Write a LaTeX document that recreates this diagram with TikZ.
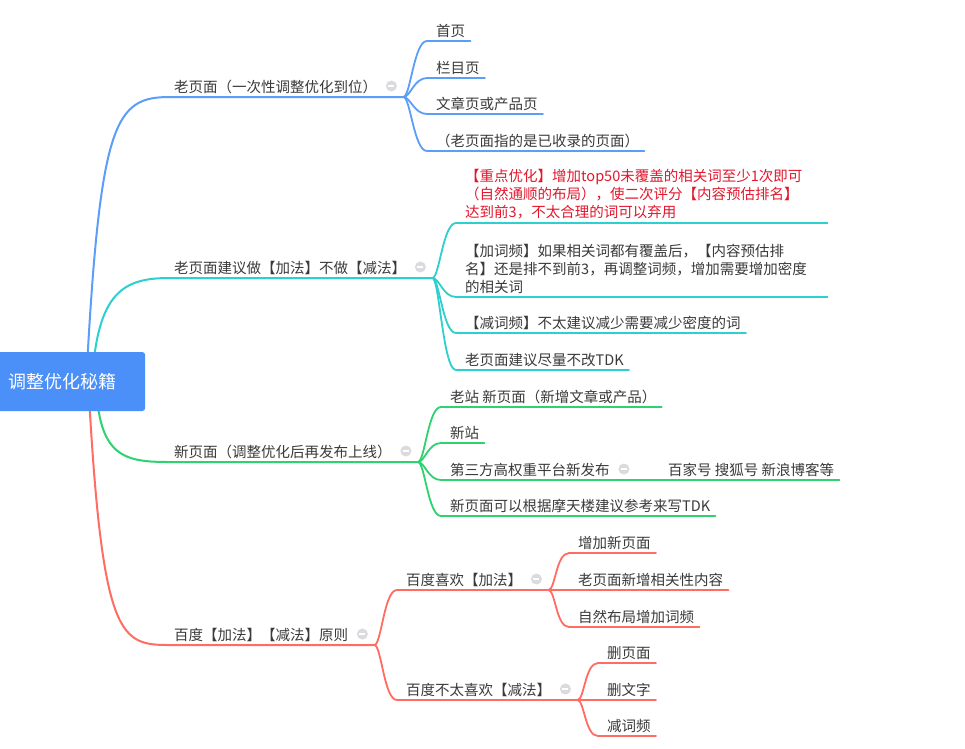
\documentclass[tikz,border=0pt]{standalone}
\usepackage{fontspec}
\setmainfont{Noto Sans CJK SC}
\usepackage{xcolor}
\usepackage{tikz}
\usetikzlibrary{positioning,calc,backgrounds}
\definecolor{rootblue}{HTML}{4B8FF8}
\definecolor{lblue}{HTML}{5C9DF7}
\definecolor{lteal}{HTML}{2DCFCF}
\definecolor{lgreen}{HTML}{2ED26F}
\definecolor{lred}{HTML}{FF6C61}
\definecolor{txtgray}{HTML}{3A3A3A}
\definecolor{txtred}{HTML}{E3172D}
\definecolor{foldgray}{HTML}{DADADF}
\tikzstyle{root}   =[rectangle, fill=rootblue, rounded corners=3pt, text=white,
                     font=\fontsize{18}{22}\selectfont, anchor=west,
                     minimum height=59pt, inner xsep=13pt, text width=124pt, align=left]
\tikzstyle{topic}  =[anchor=south west, inner xsep=0pt, inner ysep=3.5pt,
                     text depth=1pt, text=txtgray]
\tikzstyle{topicml}=[anchor=south west, inner xsep=0pt, inner ysep=3.5pt,
                     text width=357pt, align=left, text=txtgray]
\tikzstyle{fold}   =[circle, fill=foldgray, minimum size=11pt, inner sep=0pt,
                     path picture={\draw[white, line width=1.5pt]
                       ([xshift=-3pt]path picture bounding box.center) --
                       ([xshift=3pt]path picture bounding box.center);}]
\tikzstyle{main}   =[line width=2pt, line cap=round]
\tikzstyle{sub}    =[line width=1.8pt, line cap=round]

\begin{document}
\begin{tikzpicture}[x=1pt, y=-1pt, every node/.style={font=\fontsize{14.5}{18}\selectfont}]
  \useasboundingbox (0,0) rectangle (965,748);

  % ── root ───────────────────────────────────────────────────────────────────
  \node[root] (root) at (-5,381.5) {调整优化秘籍};

  % ── first level ────────────────────────────────────────────────────────────
  \node[topic] (old)  at (174,97)  {老页面（一次性调整优化到位）};
  \node[topic] (add)  at (174,278) {老页面建议做【加法】不做【减法】};
  \node[topic] (new)  at (174,462) {新页面（调整优化后再发布上线）};
  \node[topic] (rule) at (174,645) {百度【加法】【减法】原则};

  % ── old pages ──────────────────────────────────────────────────────────────
  \node[topic] (home)    at (436,41)  {首页};
  \node[topic] (column)  at (436,78)  {栏目页};
  \node[topic] (article) at (436,114) {文章页或产品页};
  \node[topic] (note)    at (436,151) {（老页面指的是已收录的页面）};

  % ── add, not subtract ──────────────────────────────────────────────────────
  \node[topicml, text=txtred] (focus) at (465,223)
    {【重点优化】增加top50未覆盖的相关词至少1次即可\\（自然通顺的布局），使二次评分【内容预估排名】\\达到前3，不太合理的词可以弃用};
  \node[topicml] (frequp) at (465,297)
    {【加词频】如果相关词都有覆盖后，【内容预估排\\名】还是排不到前3，再调整词频，增加需要增加密度\\的相关词};
  \node[topic] (freqdn) at (465,333) {【减词频】不太建议减少需要减少密度的词};
  \node[topic] (tdk)    at (465,370) {老页面建议尽量不改TDK};

  % ── new pages ──────────────────────────────────────────────────────────────
  \node[topic] (oldsite) at (450,407) {老站 新页面（新增文章或产品）};
  \node[topic] (newsite) at (450,443) {新站};
  \node[topic] (third)   at (450,480) {第三方高权重平台新发布};
  \node[topic] (media)   at (668,480) {百家号 搜狐号 新浪博客等};
  \node[topic] (newtdk)  at (450,516) {新页面可以根据摩天楼建议参考来写TDK};

  % ── baidu rules ────────────────────────────────────────────────────────────
  \node[topic] (like)    at (406,590) {百度喜欢【加法】};
  \node[topic] (dislike) at (406,700) {百度不太喜欢【减法】};
  \node[topic] (newpage) at (578,553) {增加新页面};
  \node[topic] (relcont) at (578,590) {老页面新增相关性内容};
  \node[topic] (natfreq) at (578,627) {自然布局增加词频};
  \node[topic] (delpage) at (607,663) {删页面};
  \node[topic] (deltext) at (607,700) {删文字};
  \node[topic] (delfreq) at (607,736) {减词频};

  % ── fold marks and fork points ─────────────────────────────────────────────
  \foreach \n in {old,add,new,third,rule,like,dislike}{
    \node[fold] (\n-f) at ([xshift=14pt,yshift=11pt]\n.south east) {};
    \coordinate (\n-x) at ([xshift=26pt]\n.south east);
  }

  \begin{scope}[on background layer]
    \fill[white] (0,0) rectangle (965,748);

    % ── root branches (hidden behind the root box) ───────────────────────────
    \draw[main, lblue]  ([xshift=16pt]root.center) .. controls (100,120) and (115,97)
      .. ([xshift=-4pt]old.south west) -- (old-x);
    \draw[main, lteal]  ([xshift=22pt]root.center) .. controls (97,290) and (125,278)
      .. ([xshift=-4pt]add.south west) -- (add-x);
    \draw[main, lgreen] ([xshift=26pt]root.center) .. controls (98,458) and (125,462)
      .. ([xshift=-4pt]new.south west) -- (new-x);
    \draw[main, lred]   ([xshift=18pt]root.center) .. controls (102,640) and (120,645)
      .. ([xshift=-4pt]rule.south west) -- (rule-x);

    % ── second level ─────────────────────────────────────────────────────────
    \foreach \c in {home,column,article,note}
      \draw[sub, lblue] (old-x) .. controls +(7,0) and +(-13,0)
        .. ([xshift=-9pt]\c.south west) -- ([xshift=5pt]\c.south east);
    \foreach \c in {focus,frequp,freqdn,tdk}
      \draw[sub, lteal] (add-x) .. controls +(7,0) and +(-13,0)
        .. ([xshift=-9pt]\c.south west) -- ([xshift=5pt]\c.south east);
    \foreach \c in {oldsite,newsite,newtdk}
      \draw[sub, lgreen] (new-x) .. controls +(7,0) and +(-13,0)
        .. ([xshift=-9pt]\c.south west) -- ([xshift=5pt]\c.south east);
    \draw[sub, lgreen] (new-x) .. controls +(7,0) and +(-13,0)
      .. ([xshift=-9pt]third.south west) -- (third-x) -- ([xshift=5pt]media.south east);
    \draw[sub, lred] (rule-x) .. controls +(7,0) and +(-13,0)
      .. ([xshift=-9pt]like.south west) -- (like-x);
    \draw[sub, lred] (rule-x) .. controls +(7,0) and +(-13,0)
      .. ([xshift=-9pt]dislike.south west) -- (dislike-x);

    % ── third level ──────────────────────────────────────────────────────────
    \foreach \c in {newpage,relcont,natfreq}
      \draw[sub, lred] (like-x) .. controls +(7,0) and +(-13,0)
        .. ([xshift=-9pt]\c.south west) -- ([xshift=5pt]\c.south east);
    \foreach \c in {delpage,deltext,delfreq}
      \draw[sub, lred] (dislike-x) .. controls +(7,0) and +(-13,0)
        .. ([xshift=-9pt]\c.south west) -- ([xshift=5pt]\c.south east);
  \end{scope}

\end{tikzpicture}
\end{document}
